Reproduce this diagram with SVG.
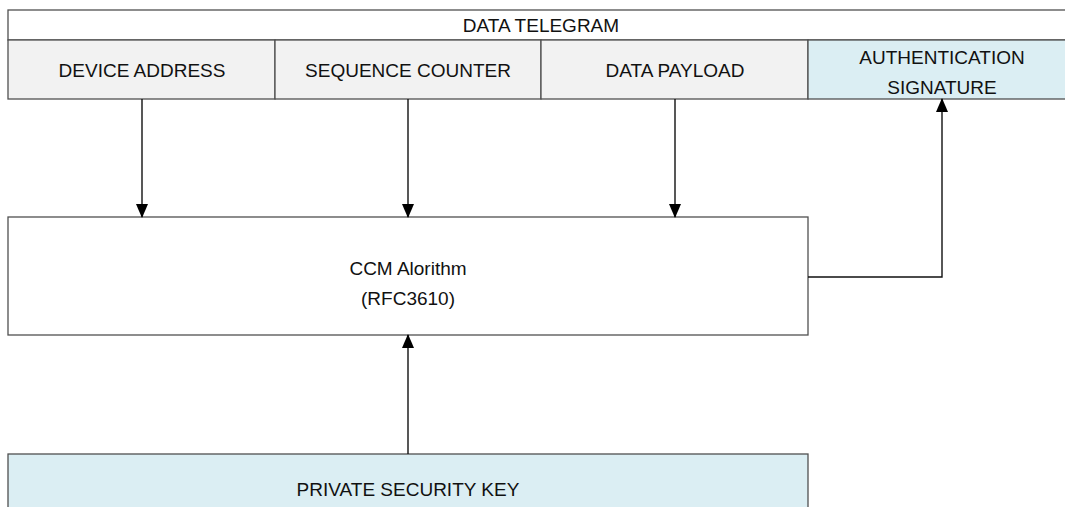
<svg xmlns="http://www.w3.org/2000/svg" width="1065" height="507" viewBox="0 0 1065 507">
<style>
.box{stroke:#505050;stroke-width:1.3}
.t{font-family:"Liberation Sans",Arial,sans-serif;font-size:19px;fill:#111;text-anchor:middle}
.c{stroke:#111;stroke-width:1.4;fill:none}
</style>
<defs>
<marker id="ah" markerWidth="14" markerHeight="12" refX="13" refY="6" orient="auto" markerUnits="userSpaceOnUse" viewBox="0 0 14 12">
<path d="M0,0 L14,6 L0,12 z" fill="#000"/>
</marker>
</defs>
<rect width="1065" height="507" fill="#fff"/>
<g id="telegram">
<rect class="box" x="8" y="10" width="1070" height="30" fill="#fff"/>
<text class="t" x="541" y="32">DATA TELEGRAM</text>
</g>
<g id="device-address">
<rect class="box" x="8" y="40" width="267" height="59" fill="#f2f2f2"/>
<text class="t" x="142" y="77">DEVICE ADDRESS</text>
</g>
<g id="sequence-counter">
<rect class="box" x="275" y="40" width="266" height="59" fill="#f2f2f2"/>
<text class="t" x="408" y="77">SEQUENCE COUNTER</text>
</g>
<g id="data-payload">
<rect class="box" x="541" y="40" width="267" height="59" fill="#f2f2f2"/>
<text class="t" x="675" y="77">DATA PAYLOAD</text>
</g>
<g id="auth-signature">
<rect class="box" x="808" y="40" width="270" height="59" fill="#dbeef3"/>
<text class="t" x="942" y="64">AUTHENTICATION</text>
<text class="t" x="942" y="94">SIGNATURE</text>
</g>
<g id="ccm">
<rect class="box" x="8" y="217" width="800" height="118" fill="#fff"/>
<text class="t" x="408" y="275">CCM Alorithm</text>
<text class="t" x="408" y="305">(RFC3610)</text>
</g>
<g id="private-key">
<rect class="box" x="8" y="454" width="800" height="60" fill="#dbeef3"/>
<text class="t" x="408" y="496">PRIVATE SECURITY KEY</text>
</g>
<g id="connectors">
<path class="c" d="M142,99 V217" marker-end="url(#ah)"/>
<path class="c" d="M408,99 V217" marker-end="url(#ah)"/>
<path class="c" d="M675,99 V217" marker-end="url(#ah)"/>
<path class="c" d="M808,277 H942 V99" marker-end="url(#ah)"/>
<path class="c" d="M408,454 V335" marker-end="url(#ah)"/>
</g>
</svg>
